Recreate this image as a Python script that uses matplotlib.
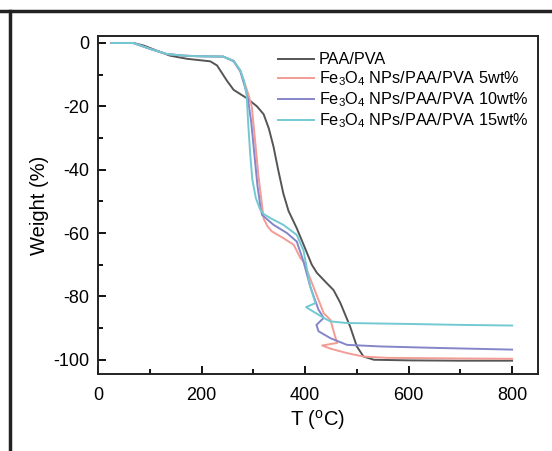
"""
TGA curves of PAA/PVA films with and without Fe3O4 nanoparticles.
"""

import matplotlib
matplotlib.use("Agg")
import matplotlib.pyplot as plt
from matplotlib.lines import Line2D
from matplotlib.ticker import MultipleLocator

plt.rcParams["font.family"] = ["Liberation Sans", "DejaVu Sans"]
plt.rcParams["mathtext.fontset"] = "custom"
plt.rcParams["mathtext.rm"] = "Liberation Sans"
plt.rcParams["mathtext.it"] = "Liberation Sans:italic"
plt.rcParams["axes.unicode_minus"] = False

# temperature (degC) / weight change (%) for each sample
t_paa = [26, 68, 88, 113, 139, 172, 217, 230, 249, 262, 288, 307, 320, 330,
         339, 348, 358, 368, 384, 400, 413, 423, 440, 455, 468, 487, 500, 513,
         533, 600, 700, 800]
w_paa = [0, 0, -0.8, -2.4, -4, -5, -5.8, -7.1, -11.9, -14.8, -17.5, -20, -22.5,
         -27, -32.7, -40, -47.5, -53, -58.5, -64.8, -70, -72.6, -75.5, -78, -82,
         -89.5, -95.8, -99, -100, -100.2, -100.3, -100.3]

t_5wt = [26, 68, 101, 133, 165, 197, 242, 262, 275, 284, 290, 297, 303, 310,
         316, 320, 328, 336, 358, 378, 391, 397, 416, 436, 449, 458, 462, 433,
         449, 481, 513, 560, 700, 800]
w_5wt = [0, 0, -1.9, -3.5, -4, -4.2, -4.3, -5.6, -8.7, -13, -16, -20, -30, -42,
         -50, -55.5, -58, -59.5, -61.6, -63.7, -67.9, -69, -76.9, -85.3, -87.4,
         -92.6, -94.7, -95.5, -96.5, -97.9, -99, -99.4, -99.6, -99.7]

t_10wt = [26, 68, 101, 133, 165, 197, 242, 262, 275, 284, 290, 296, 302, 308,
          314, 317, 339, 365, 384, 397, 410, 426, 436, 422, 426, 449, 481, 545,
          662, 800]
w_10wt = [0, 0, -1.9, -3.5, -4, -4.2, -4.3, -5.8, -9, -14, -18, -25, -35, -45,
          -52, -54.3, -57.4, -60, -62.7, -69, -76.9, -84.2, -86.8, -89, -91,
          -93.2, -95.3, -95.8, -96.3, -96.8]

t_15wt = [26, 68, 101, 133, 165, 197, 242, 262, 275, 282, 287, 290, 294, 298,
          305, 313, 320, 333, 358, 384, 397, 410, 420, 402, 436, 449, 480, 600,
          700, 800]
w_15wt = [0, 0, -1.9, -3.5, -4, -4.2, -4.3, -5.6, -8.7, -12, -16, -25, -35,
          -43, -49, -52.5, -54, -55.3, -57.4, -60.6, -65.5, -76.9, -82.1, -83.4,
          -86.8, -87.9, -88.4, -88.7, -89, -89.2]

labels = ["PAA/PVA",
          "Fe$_3$O$_4$ NPs/PAA/PVA 5wt%",
          "Fe$_3$O$_4$ NPs/PAA/PVA 10wt%",
          "Fe$_3$O$_4$ NPs/PAA/PVA 15wt%"]
colors = ["#555555", "#f39c96", "#8585c9", "#72c9d2"]

fig = plt.figure(figsize=(5.52, 4.51), dpi=100)
ax = fig.add_axes([98 / 552, 77 / 451, 440 / 552, 338 / 451])

series = [(t_paa, w_paa), (t_5wt, w_5wt), (t_10wt, w_10wt), (t_15wt, w_15wt)]
for (t, w), lab, col in zip(series, labels, colors):
    ax.plot(t, w, color=col, lw=1.4, label=lab)

ax.set_xlim(0, 850)
ax.set_ylim(-104.5, 2.2)
ax.xaxis.set_major_locator(MultipleLocator(200))
ax.xaxis.set_minor_locator(MultipleLocator(100))
ax.yaxis.set_major_locator(MultipleLocator(20))
ax.yaxis.set_minor_locator(MultipleLocator(10))
ax.tick_params(which="both", direction="in", top=False, right=False,
               labelsize=13, width=1.3)
ax.tick_params(axis="x", pad=9)
ax.tick_params(axis="y", pad=6)
ax.tick_params(which="major", length=6)
ax.tick_params(which="minor", length=3.5)
for sp in ax.spines.values():
    sp.set_linewidth(1.4)
    sp.set_color("#222222")

ax.set_xlabel("T ($^{\\rm o}$C)", fontsize=14.5, labelpad=3)
ax.set_ylabel("Weight (%)", fontsize=14.5, labelpad=3)

ax.legend(loc="upper left", bbox_to_anchor=(0.409, 0.952), frameon=False,
          fontsize=11.7, handlelength=2.2, handletextpad=0.3,
          labelspacing=0.14, borderpad=0, borderaxespad=0)

# outer frame: top and left edges only
fig.add_artist(Line2D([0, 1], [1 - 11 / 451, 1 - 11 / 451],
                      transform=fig.transFigure, color="#222222", lw=2.5))
fig.add_artist(Line2D([10 / 552, 10 / 552], [0, 1 - 11 / 451],
                      transform=fig.transFigure, color="#222222", lw=2.5))

fig.savefig("out.png", dpi=100)
